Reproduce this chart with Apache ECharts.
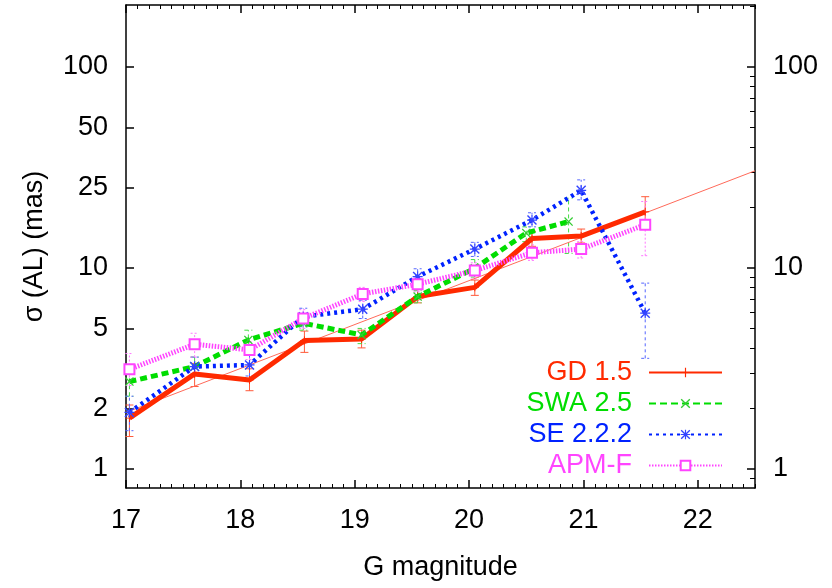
<!DOCTYPE html>
<html><head><meta charset="utf-8">
<script src="https://cdn.jsdelivr.net/npm/echarts@6/dist/echarts.min.js"></script>
<style>html,body{margin:0;padding:0;background:#fff}#c{width:832px;height:588px}</style>
</head><body><div id="c"></div>
<script>
// ---- data (sigma in mas vs G magnitude) ----
const magGD  = [17.03, 17.6, 18.08, 18.56, 19.06, 19.55, 20.05, 20.55, 20.98, 21.54];
const sigGD  = [1.79, 2.97, 2.77, 4.35, 4.43, 7.2, 8.0, 14.0, 14.4, 19.0];
const lowGD  = [1.45, 2.57, 2.45, 3.8, 4.0, 6.7, 7.3, 12.8, 13.3, 15.9];
const highGD = [2.08, 3.35, 3.15, 4.85, 4.9, 7.8, 8.7, 15.2, 15.6, 22.6];

const magSWA  = [17.03, 17.6, 18.07, 18.55, 19.06, 19.55, 20.05, 20.5, 20.87];
const sigSWA  = [2.72, 3.23, 4.38, 5.31, 4.64, 7.2, 9.96, 14.9, 17.0];
const lowSWA  = [2.3, 2.9, 3.8, 4.9, 4.2, 6.7, 9.0, 13.5, 11.8];
const highSWA = [3.2, 3.6, 4.9, 5.8, 5.0, 7.7, 11.0, 16.0, 22.2];

const magSE  = [17.03, 17.6, 18.08, 18.55, 19.07, 19.55, 20.05, 20.55, 20.98, 21.54];
const sigSE  = [1.91, 3.23, 3.29, 5.72, 6.23, 9.05, 12.4, 17.3, 24.3, 5.95];
const lowSE  = [1.55, 2.9, 2.9, 5.1, 5.6, 8.3, 11.4, 16.0, 21.8, 3.55];
const highSE = [2.3, 3.6, 3.7, 6.3, 6.9, 9.9, 13.4, 18.8, 27.4, 8.4];

const magAPM  = [17.03, 17.6, 18.08, 18.55, 19.07, 19.55, 20.05, 20.55, 20.98, 21.54];
const sigAPM  = [3.13, 4.17, 3.91, 5.6, 7.42, 8.3, 9.7, 11.9, 12.4, 16.4];
const lowAPM  = [2.6, 3.6, 3.5, 5.0, 6.8, 7.6, 8.8, 10.9, 11.2, 11.5];
const highAPM = [3.75, 4.73, 4.3, 6.2, 8.0, 9.0, 10.6, 13.0, 13.5, 21.4];

const fitMag = [17.0, 22.5];
const fitSig = [1.91, 30.4];

const seriesNames = ['GD 1.5', 'SWA 2.5', 'SE 2.2.2', 'APM-F'];
const xTickLabels = [17, 18, 19, 20, 21, 22];
const yTickLabels = [1, 2, 5, 10, 25, 50, 100];
const yRightLabels = [1, 10, 100];
const yRightMinor = [0.9, 2, 3, 4, 5, 6, 7, 8, 9, 20, 30, 40, 50, 60, 70, 80, 90, 200];
const xMin = 17, xMax = 22.5, yMin = 0.804, yMax = 203;

// ---- build ----
const L = v => Math.log10(v);
const xMinor = [];
for (let k = 171; k <= 225; k++) if (k % 10 !== 0) xMinor.push(k / 10);

const FONT = "'Liberation Sans', Arial, sans-serif";
const FS = 27;
const C = { red: '#ff2a00', green: '#00dd00', blue: '#0022ff', mag: '#ff44ff' };

const SYM_PLUS = 'path://M4.4,0H5.6V10H4.4Z M0,4.4H10V5.6H0Z';
const SYM_X = 'path://M1,0L5,4L9,0L10,1L6,5L10,9L9,10L5,6L1,10L0,9L4,5L0,1Z';
const SYM_STAR = 'path://M1,0L5,4L9,0L10,1L6,5L10,9L9,10L5,6L1,10L0,9L4,5L0,1Z M4.4,0H5.6V10H4.4Z M0,4.4H10V5.6H0Z';

function pts(xs, ys) { return xs.map((x, i) => [x, L(ys[i])]); }

function errSeries(name, xs, lo, hi, color, dash) {
  return {
    type: 'custom', name: name, silent: true, z: 1,
    xAxisIndex: 0, yAxisIndex: 0,
    data: xs.map((x, i) => [x, L(lo[i]), L(hi[i])]),
    renderItem: function (params, api) {
      const x = api.value(0);
      const a = api.coord([x, api.value(1)]);
      const b = api.coord([x, api.value(2)]);
      const w = 4;
      return {
        type: 'group', children: [
          { type: 'line', shape: { x1: a[0], y1: a[1], x2: b[0], y2: b[1] }, style: { stroke: color, lineWidth: 1, lineDash: dash } },
          { type: 'line', shape: { x1: a[0] - w, y1: a[1], x2: a[0] + w, y2: a[1] }, style: { stroke: color, lineWidth: 1, lineDash: dash } },
          { type: 'line', shape: { x1: b[0] - w, y1: b[1], x2: b[0] + w, y2: b[1] }, style: { stroke: color, lineWidth: 1, lineDash: dash } }
        ]
      };
    }
  };
}

const axisLine = { show: true, onZero: false, lineStyle: { color: '#000', width: 1.5 } };
const noLine = { show: false, onZero: false };
const labelStyle = { color: '#000', fontFamily: FONT, fontSize: FS };
const fmtPow = v => String(Math.round(Math.pow(10, v)));

const option = {
  animation: false,
  backgroundColor: '#fff',
  grid: { left: 126, right: 77, top: 5, bottom: 100, containLabel: false },
  xAxis: [
    { type: 'value', position: 'bottom', min: xMin, max: xMax,
      name: 'G magnitude', nameLocation: 'middle', nameGap: 66,
      nameTextStyle: { color: '#000', fontFamily: FONT, fontSize: FS },
      axisLine: axisLine, splitLine: { show: false },
      axisTick: { inside: true, length: 8, customValues: xTickLabels, lineStyle: { color: '#000', width: 1.5 } },
      axisLabel: Object.assign({ margin: 19, customValues: xTickLabels }, labelStyle) },
    { type: 'value', position: 'bottom', min: xMin, max: xMax,
      axisLine: noLine, splitLine: { show: false }, axisLabel: { show: false },
      axisTick: { inside: true, length: 4, customValues: xMinor, lineStyle: { color: '#000', width: 1 } } },
    { type: 'value', position: 'top', min: xMin, max: xMax,
      axisLine: axisLine, splitLine: { show: false }, axisLabel: { show: false },
      axisTick: { inside: true, length: 8, customValues: xTickLabels, lineStyle: { color: '#000', width: 1.5 } } },
    { type: 'value', position: 'top', min: xMin, max: xMax,
      axisLine: noLine, splitLine: { show: false }, axisLabel: { show: false },
      axisTick: { inside: true, length: 4, customValues: xMinor, lineStyle: { color: '#000', width: 1 } } }
  ],
  yAxis: [
    { type: 'value', position: 'left', min: L(yMin), max: L(yMax),
      name: 'σ (AL) (mas)', nameLocation: 'middle', nameGap: 78, nameRotate: 90,
      nameTextStyle: { color: '#000', fontFamily: FONT, fontSize: FS },
      axisLine: axisLine, splitLine: { show: false },
      axisTick: { inside: true, length: 8, customValues: yTickLabels.map(L), lineStyle: { color: '#000', width: 1.5 } },
      axisLabel: Object.assign({ margin: 18, customValues: yTickLabels.map(L), formatter: fmtPow }, labelStyle) },
    { type: 'value', position: 'right', min: L(yMin), max: L(yMax),
      axisLine: axisLine, splitLine: { show: false },
      axisTick: { inside: true, length: 8, customValues: yRightLabels.map(L), lineStyle: { color: '#000', width: 1.5 } },
      axisLabel: Object.assign({ margin: 18, customValues: yRightLabels.map(L), formatter: fmtPow }, labelStyle) },
    { type: 'value', position: 'right', min: L(yMin), max: L(yMax),
      axisLine: noLine, splitLine: { show: false }, axisLabel: { show: false },
      axisTick: { inside: true, length: 5, customValues: yRightMinor.map(L), lineStyle: { color: '#000', width: 1 } } }
  ],
  legend: {
    orient: 'vertical', align: 'right', right: 104, top: 354,
    itemWidth: 73, itemHeight: 12, itemGap: 4, selectedMode: false,
    textStyle: { fontFamily: FONT, fontSize: FS, padding: [0, 12, 0, 0] },
    data: [
      { name: seriesNames[0], textStyle: { color: C.red } },
      { name: seriesNames[1], textStyle: { color: C.green } },
      { name: seriesNames[2], textStyle: { color: C.blue } },
      { name: seriesNames[3], textStyle: { color: C.mag } }
    ]
  },
  series: [
    { type: 'line', name: 'fit', data: pts(fitMag, fitSig), symbol: 'none', silent: true, z: 1,
      lineStyle: { color: '#ff6a5a', width: 1 } },
    errSeries('GD err', magGD, lowGD, highGD, '#ff5a3a', null),
    errSeries('SWA err', magSWA, lowSWA, highSWA, '#44dd44', [4, 3]),
    errSeries('SE err', magSE, lowSE, highSE, '#5566ff', [3, 3]),
    errSeries('APM err', magAPM, lowAPM, highAPM, '#ff77ff', [2, 2]),
    { type: 'line', name: seriesNames[0], data: pts(magGD, sigGD), symbol: SYM_PLUS, symbolSize: 8, z: 3,
      itemStyle: { color: C.red }, lineStyle: { color: C.red, width: 5 } },
    { type: 'line', name: seriesNames[1], data: pts(magSWA, sigSWA), symbol: SYM_X, symbolSize: 9, z: 4,
      itemStyle: { color: '#33cc33' }, lineStyle: { color: C.green, width: 5, type: [7, 4] } },
    { type: 'line', name: seriesNames[2], data: pts(magSE, sigSE), symbol: SYM_STAR, symbolSize: 10, z: 5,
      itemStyle: { color: '#3344ff' }, lineStyle: { color: C.blue, width: 4.5, type: [3, 4] } },
    { type: 'line', name: seriesNames[3], data: pts(magAPM, sigAPM), symbol: 'emptyRect', symbolSize: 10, z: 6,
      itemStyle: { color: C.mag, borderWidth: 1 }, lineStyle: { color: C.mag, width: 5, type: [1.5, 1.5] } }
  ]
};

const chart = echarts.init(document.getElementById('c'), null, { renderer: 'canvas' });
chart.setOption(option);
</script>
</body></html>
